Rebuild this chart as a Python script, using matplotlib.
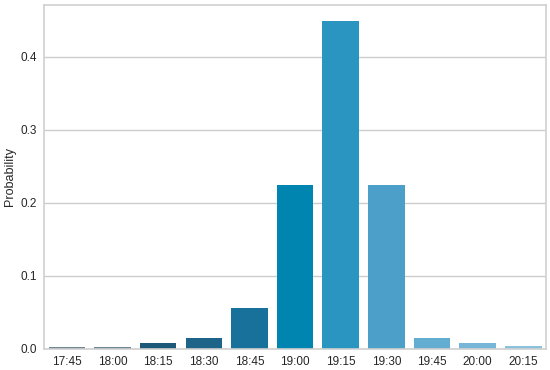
import matplotlib
matplotlib.use("Agg")
import matplotlib.pyplot as plt
import numpy as np

times = ["17:45", "18:00", "18:15", "18:30", "18:45", "19:00", "19:15",
         "19:30", "19:45", "20:00", "20:15"]
probs = [0.002, 0.003, 0.008, 0.015, 0.056, 0.224, 0.449, 0.224, 0.015, 0.008, 0.004]
colors = ["#718894", "#6d8797", "#1d5878", "#1e6488", "#17719a", "#0085b0",
          "#2a95c0", "#4c9fc8", "#63acd2", "#77b6d8", "#8cc1dd"]

plt.rcParams['font.family'] = ['Liberation Sans', 'DejaVu Sans']
fig = plt.figure(figsize=(5.5, 3.7), dpi=100)
ax = fig.add_axes([0.08, 0.057, 0.913, 0.93])
x = np.arange(len(times))
ax.bar(x, probs, width=0.8, color=colors, zorder=2)
ax.set_xticks(x)
ax.set_xticklabels(times)
ax.set_xlim(-0.5, len(times) - 0.5)
ax.set_ylim(0, 0.4715)
ax.set_yticks([0.0, 0.1, 0.2, 0.3, 0.4])
ax.set_yticklabels(["0.0", "0.1", "0.2", "0.3", "0.4"])
ax.set_ylabel("Probability", fontsize=9, color="#262626", labelpad=3)
ax.grid(axis="y", color="#cccccc", linewidth=1, zorder=0)
ax.grid(axis="x", visible=False)
for s in ax.spines.values():
    s.set_color("#d0d0d0")
    s.set_linewidth(1.2)
ax.tick_params(axis="both", length=0, labelsize=8.5, colors="#262626", pad=5)
fig.savefig("out.png", dpi=100)
